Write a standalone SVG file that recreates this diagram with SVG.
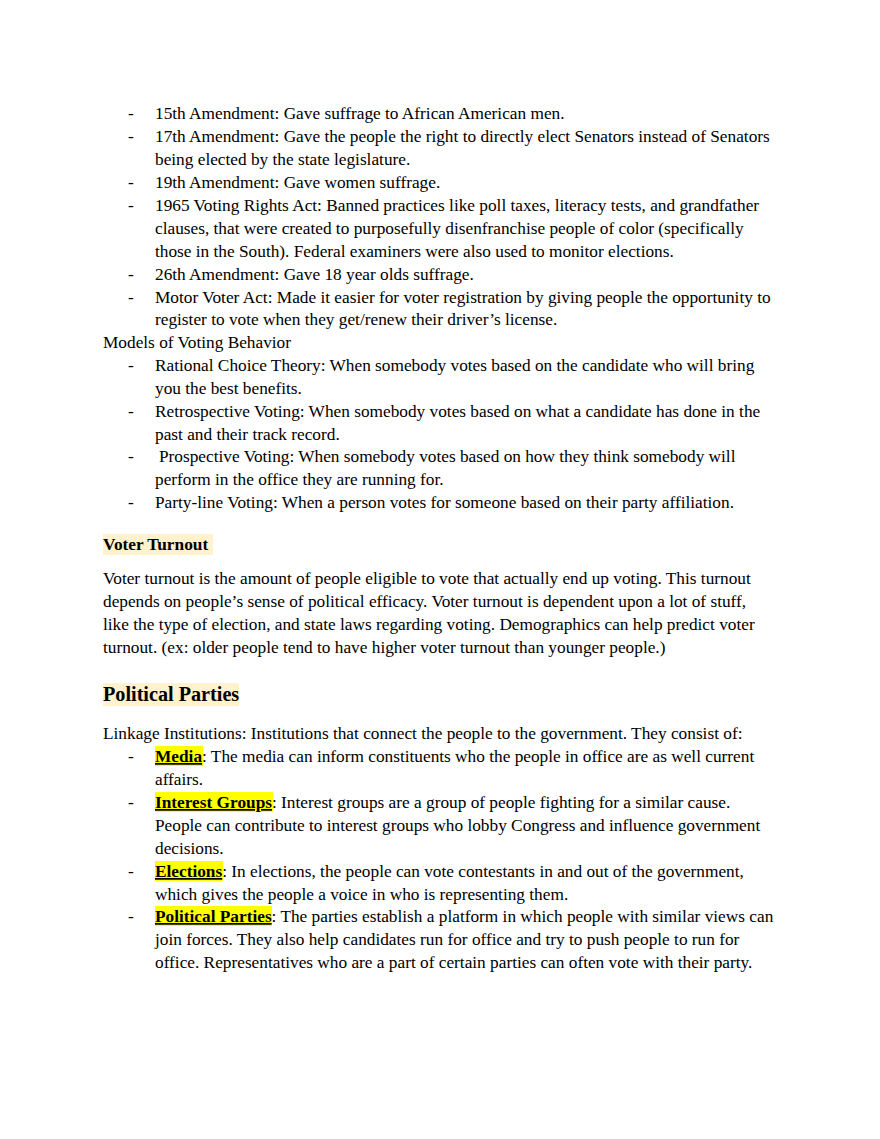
<svg xmlns="http://www.w3.org/2000/svg" width="880" height="1139" viewBox="0 0 880 1139">
<style>
text{font-family:"Liberation Serif","Times New Roman",serif;font-size:17.3px;fill:#000}
.b{font-weight:bold}
.h2{font-size:20.2px;font-weight:bold}
.u{text-decoration:underline}
.hl{fill:#ffff00}
.hp{fill:#fff2cc}
</style>
<rect width="880" height="1139" fill="#fff"/>
<g id="amendments">
<text x="128" y="119">-</text><text x="155" y="119">15th Amendment: Gave suffrage to African American men.</text>
<text x="128" y="142">-</text><text x="155" y="142">17th Amendment: Gave the people the right to directly elect Senators instead of Senators</text>
<text x="155" y="165">being elected by the state legislature.</text>
<text x="128" y="188">-</text><text x="155" y="188">19th Amendment: Gave women suffrage.</text>
<text x="128" y="211">-</text><text x="155" y="211">1965 Voting Rights Act: Banned practices like poll taxes, literacy tests, and grandfather</text>
<text x="155" y="234">clauses, that were created to purposefully disenfranchise people of color (specifically</text>
<text x="155" y="257">those in the South). Federal examiners were also used to monitor elections.</text>
<text x="128" y="280">-</text><text x="155" y="280">26th Amendment: Gave 18 year olds suffrage.</text>
<text x="128" y="303">-</text><text x="155" y="303">Motor Voter Act: Made it easier for voter registration by giving people the opportunity to</text>
<text x="155" y="325">register to vote when they get/renew their driver’s license.</text>
</g>
<g id="models">
<text x="103" y="348">Models of Voting Behavior</text>
<text x="128" y="371">-</text><text x="155" y="371">Rational Choice Theory: When somebody votes based on the candidate who will bring</text>
<text x="155" y="394">you the best benefits.</text>
<text x="128" y="417">-</text><text x="155" y="417">Retrospective Voting: When somebody votes based on what a candidate has done in the</text>
<text x="155" y="440">past and their track record.</text>
<text x="128" y="462">-</text><text x="159" y="462">Prospective Voting: When somebody votes based on how they think somebody will</text>
<text x="155" y="485">perform in the office they are running for.</text>
<text x="128" y="508">-</text><text x="155" y="508">Party-line Voting: When a person votes for someone based on their party affiliation.</text>
</g>
<g id="voter-turnout">
<rect class="hp" x="103" y="534" width="110" height="21"/>
<text class="b" x="103" y="550">Voter Turnout</text>
<text x="103" y="584">Voter turnout is the amount of people eligible to vote that actually end up voting. This turnout</text>
<text x="103" y="607">depends on people’s sense of political efficacy. Voter turnout is dependent upon a lot of stuff,</text>
<text x="103" y="630">like the type of election, and state laws regarding voting. Demographics can help predict voter</text>
<text x="103" y="653">turnout. (ex: older people tend to have higher voter turnout than younger people.)</text>
</g>
<g id="political-parties">
<rect class="hp" x="103" y="683" width="136" height="23"/>
<text class="h2" x="103" y="701">Political Parties</text>
<text x="103" y="739">Linkage Institutions: Institutions that connect the people to the government. They consist of:</text>
<rect class="hl" x="155" y="746" width="48" height="20"/>
<text x="128" y="762">-</text><text x="155" y="762"><tspan class="b u">Media</tspan>: The media can inform constituents who the people in office are as well current</text>
<text x="155" y="785">affairs.</text>
<rect class="hl" x="155" y="792" width="118" height="20"/>
<text x="128" y="808">-</text><text x="155" y="808"><tspan class="b u">Interest Groups</tspan>: Interest groups are a group of people fighting for a similar cause.</text>
<text x="155" y="831">People can contribute to interest groups who lobby Congress and influence government</text>
<text x="155" y="854">decisions.</text>
<rect class="hl" x="155" y="861" width="68" height="20"/>
<text x="128" y="877">-</text><text x="155" y="877"><tspan class="b u">Elections</tspan>: In elections, the people can vote contestants in and out of the government,</text>
<text x="155" y="900">which gives the people a voice in who is representing them.</text>
<rect class="hl" x="155" y="906" width="117" height="20"/>
<text x="128" y="922">-</text><text x="155" y="922"><tspan class="b u">Political Parties</tspan>: The parties establish a platform in which people with similar views can</text>
<text x="155" y="945">join forces. They also help candidates run for office and try to push people to run for</text>
<text x="155" y="968">office. Representatives who are a part of certain parties can often vote with their party.</text>
</g>
</svg>
